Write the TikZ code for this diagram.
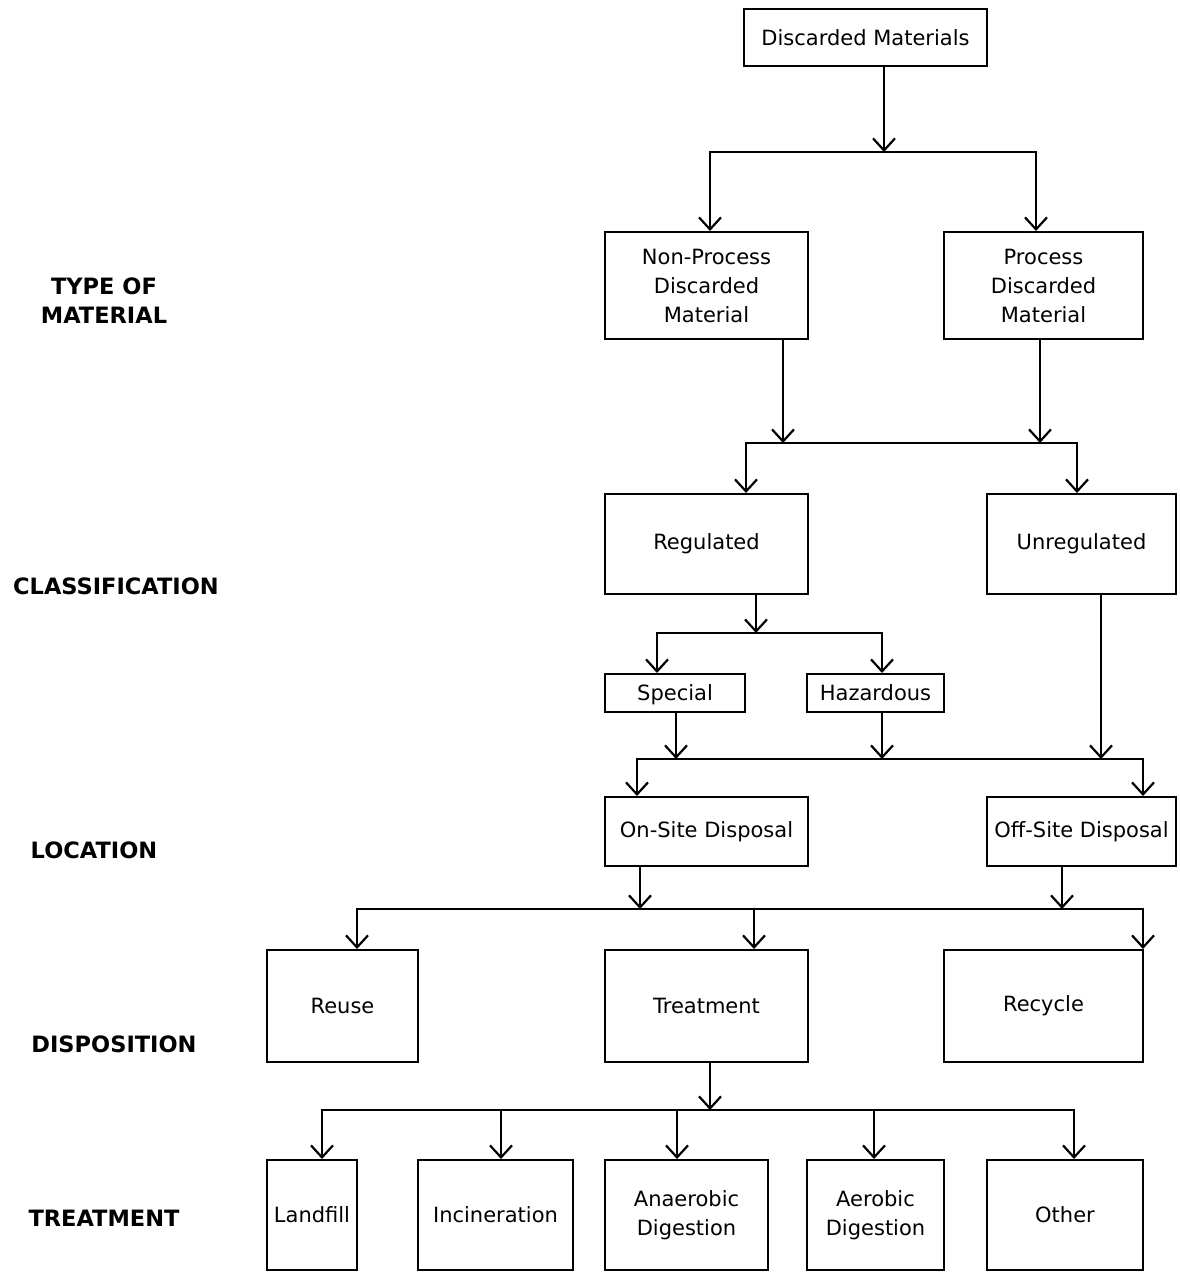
\documentclass[tikz,border=0pt]{standalone}
\usepackage{fontspec}
\setmainfont{DejaVu Sans}
\usetikzlibrary{positioning, arrows.meta}

\begin{document}
\begin{tikzpicture}[
        x=1pt, y=-1pt,
        box/.style={rectangle, draw, line width=2pt, inner sep=2pt, align=center, font=\fontsize{21}{29}\selectfont},
        lvl/.style={align=center, font=\fontsize{22.5}{29}\selectfont\bfseries},
        line/.style={line width=2.2pt, line join=miter},
        arr/.style={line, -{Straight Barb[length=12pt, width=22pt]}}
    ]
        \useasboundingbox (0,0) rectangle (1179,1273);

        % Level labels
        \node[lvl] (ltype) at (104,301) {TYPE OF\\MATERIAL};
        \node[lvl] (lclass) at (116,586) {CLASSIFICATION};
        \node[lvl] (lloc) at (94,850) {LOCATION};
        \node[lvl] (ldisp) at (114,1044) {DISPOSITION};
        \node[lvl] (ltreat) at (104,1218) {TREATMENT};

        % Boxes
        \node[box, minimum width=243, minimum height=57] (disc) at (865.5,37.5) {Discarded Materials};
        \node[box, minimum width=203, minimum height=107] (np) at (706.5,285.5) {Non-Process\\Discarded\\Material};
        \node[box, minimum width=199, minimum height=107] (pr) at (1043.5,285.5) {Process\\Discarded\\Material};
        \node[box, minimum width=203, minimum height=100] (reg) at (706.5,544) {Regulated};
        \node[box, minimum width=189, minimum height=100] (unreg) at (1081.5,544) {Unregulated};
        \node[box, minimum width=140, minimum height=38, text depth=0.25ex] (spec) at (675,693) {Special};
        \node[box, minimum width=137, minimum height=38, text depth=0.25ex] (haz) at (875.5,693) {Hazardous};
        \node[box, minimum width=203, minimum height=69] (onsite) at (706.5,831.5) {On-Site Disposal};
        \node[box, minimum width=189, minimum height=69] (offsite) at (1081.5,831.5) {Off-Site Disposal};
        \node[box, minimum width=151, minimum height=112] (reuse) at (342.5,1006) {Reuse};
        \node[box, minimum width=203, minimum height=112] (treat) at (706.5,1006) {Treatment};
        \node[box, minimum width=199, minimum height=112] (recyc) at (1043.5,1006) {Recycle};
        \node[box, minimum width=90, minimum height=110] (landf) at (312,1215) {Landfill};
        \node[box, minimum width=155, minimum height=110] (incin) at (495.5,1215) {Incineration};
        \node[box, minimum width=163, minimum height=110] (anaer) at (686.5,1215) {Anaerobic\\Digestion};
        \node[box, minimum width=137, minimum height=110] (aer) at (875.5,1215) {Aerobic\\Digestion};
        \node[box, minimum width=156, minimum height=110] (other) at (1065,1215) {Other};

        % Bus points
        \coordinate (j1) at (884,152);
        \coordinate (d1a) at (710,152);
        \coordinate (d1b) at (1036,152);
        \coordinate (j2a) at (783,443);
        \coordinate (j2b) at (1040,443);
        \coordinate (d2a) at (746,443);
        \coordinate (d2b) at (1077,443);
        \coordinate (j3) at (756,633);
        \coordinate (d3a) at (657,633);
        \coordinate (d3b) at (882,633);
        \coordinate (j4a) at (676,759);
        \coordinate (j4b) at (882,759);
        \coordinate (j4c) at (1101,759);
        \coordinate (d4a) at (637,759);
        \coordinate (d4b) at (1143,759);
        \coordinate (j5a) at (640,909);
        \coordinate (j5b) at (1062,909);
        \coordinate (d5a) at (357,909);
        \coordinate (d5b) at (754,909);
        \coordinate (d5c) at (1143,909);
        \coordinate (j6) at (710,1110);
        \coordinate (d6a) at (322,1110);
        \coordinate (d6b) at (501,1110);
        \coordinate (d6c) at (677,1110);
        \coordinate (d6d) at (874,1110);
        \coordinate (d6e) at (1074,1110);

        % Discarded materials to type
        \draw[arr] (j1 |- disc.south) -- (j1);
        \draw[arr] (d1b) -- (d1a) -- (d1a |- np.north);
        \draw[arr] (d1a) -- (d1b) -- (d1b |- pr.north);

        % Type to classification
        \draw[arr] (j2a |- np.south) -- (j2a);
        \draw[arr] (j2b |- pr.south) -- (j2b);
        \draw[arr] (d2b) -- (d2a) -- (d2a |- reg.north);
        \draw[arr] (d2a) -- (d2b) -- (d2b |- unreg.north);

        % Regulated split
        \draw[arr] (j3 |- reg.south) -- (j3);
        \draw[arr] (d3b) -- (d3a) -- (d3a |- spec.north);
        \draw[arr] (d3a) -- (d3b) -- (d3b |- haz.north);

        % Classification to location
        \draw[arr] (j4a |- spec.south) -- (j4a);
        \draw[arr] (j4b |- haz.south) -- (j4b);
        \draw[arr] (j4c |- unreg.south) -- (j4c);
        \draw[arr] (d4b) -- (d4a) -- (d4a |- onsite.north);
        \draw[arr] (d4a) -- (d4b) -- (d4b |- offsite.north);

        % Location to disposition
        \draw[arr] (j5a |- onsite.south) -- (j5a);
        \draw[arr] (j5b |- offsite.south) -- (j5b);
        \draw[arr] (d5c) -- (d5a) -- (d5a |- reuse.north);
        \draw[arr] (d5a) -- (d5c) -- (d5c |- recyc.north);
        \draw[arr] (d5b) -- (d5b |- treat.north);

        % Treatment options
        \draw[arr] (j6 |- treat.south) -- (j6);
        \draw[arr] (d6e) -- (d6a) -- (d6a |- landf.north);
        \draw[arr] (d6a) -- (d6e) -- (d6e |- other.north);
        \draw[arr] (d6b) -- (d6b |- incin.north);
        \draw[arr] (d6c) -- (d6c |- anaer.north);
        \draw[arr] (d6d) -- (d6d |- aer.north);
    \end{tikzpicture}
\end{document}
